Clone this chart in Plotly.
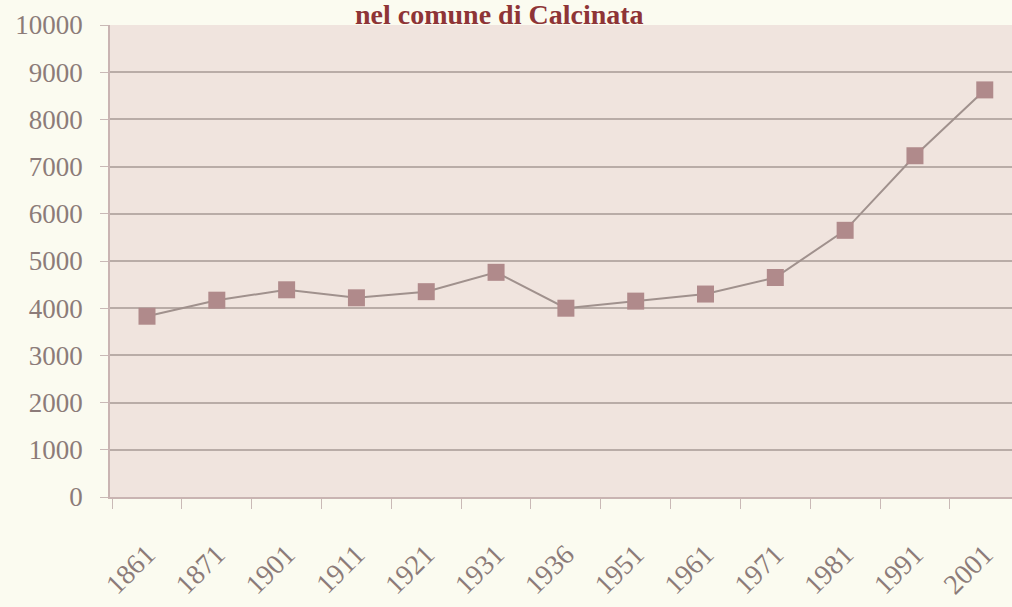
import plotly.graph_objects as go

# Censimenti della popolazione residente
anni = ["1861", "1871", "1901", "1911", "1921", "1931", "1936",
        "1951", "1961", "1971", "1981", "1991", "2001"]
abitanti = [3830, 4170, 4390, 4220, 4350, 4760, 4000,
            4150, 4300, 4650, 5650, 7230, 8625]
y_ticks = [0, 1000, 2000, 3000, 4000, 5000, 6000, 7000, 8000, 9000, 10000]
y_labels = [str(v) for v in y_ticks]

serif = "Liberation Serif, Times New Roman, serif"
label_color = "#8c7b79"

fig = go.Figure(
    go.Scatter(
        x=anni,
        y=abitanti,
        mode="lines+markers",
        line=dict(color="#a0918d", width=2),
        marker=dict(symbol="square", size=17, color="#b08a8b",
                    line=dict(width=0)),
        showlegend=False,
    )
)

fig.add_annotation(
    text="<b>nel comune di Calcinata</b>",
    xref="paper", yref="paper", x=0.432, y=1 + 25 / 472,
    xanchor="center", yanchor="top", yshift=2, borderpad=0,
    showarrow=False,
    font=dict(family=serif, size=28, color="#8e3436"),
)

fig.update_layout(
    width=1012, height=607,
    margin=dict(l=110, r=0, t=25, b=110),
    paper_bgcolor="#fbfbf0",
    plot_bgcolor="#f0e4de",
    font=dict(family=serif, color=label_color),
    xaxis=dict(
        type="category",
        range=[-0.53, 12.39],
        tickson="boundaries",
        ticks="outside", ticklen=10, tickcolor="#c9b9b6", tickwidth=1,
        showgrid=False,
        showline=True, linecolor="#c9b4b2", linewidth=1.5,
        tickangle=-45,
        tickfont=dict(family=serif, size=28, color=label_color),
        ticklabelstandoff=28,
    ),
    yaxis=dict(
        range=[0, 10000],
        tickvals=y_ticks,
        ticktext=y_labels,
        ticks="outside", ticklen=8, tickcolor="#c9b9b6",
        showgrid=True, gridcolor="#b9aca7", gridwidth=1.5,
        zeroline=False,
        showline=True, linecolor="#c9b4b2", linewidth=1.5,
        tickfont=dict(family=serif, size=27, color=label_color),
        ticklabelstandoff=12,
    ),
)

fig.write_html("out.html")
